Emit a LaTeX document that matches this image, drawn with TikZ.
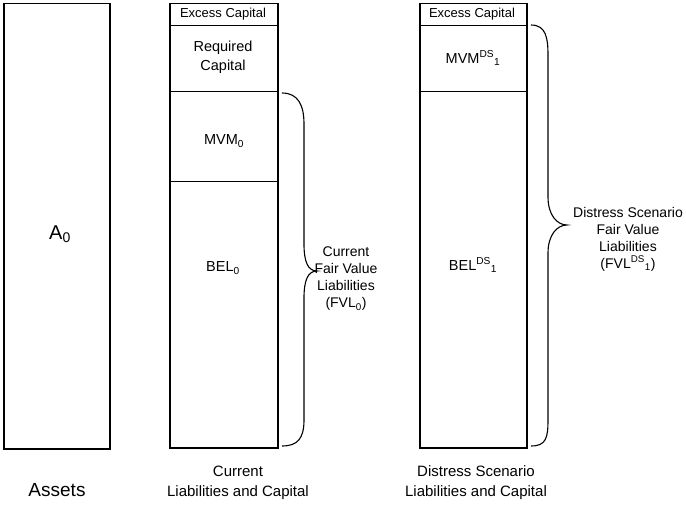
\documentclass[tikz,border=0pt]{standalone}
\usepackage{fontspec}
\setmainfont{Liberation Sans}
\begin{document}
\begin{tikzpicture}[x=1pt,y=-1pt,
  box/.style={draw, line width=1.5pt, rectangle, anchor=north west, inner sep=0pt},
  lbl/.style={inner sep=0pt, align=center, font=\fontsize{14.5}{19}\selectfont},
  small/.style={inner sep=0pt, font=\fontsize{13}{15}\selectfont},
  side/.style={inner sep=0pt, align=center, font=\fontsize{14}{17}\selectfont},
  bottom/.style={inner sep=0pt, align=center, font=\fontsize{15}{20}\selectfont},
  bracepath/.style={draw, line width=1.1pt}]
\useasboundingbox (0,0) rectangle (686,508);
\fill[white] (0,0) rectangle (686,508);
% Assets
\node[box, minimum width=106pt, minimum height=445pt] (assets) at (3,3) {};
% Current stack
\node[box, minimum width=108pt, minimum height=22pt] (exc0) at (169,3) {};
\node[box, minimum width=108pt, minimum height=66pt] (req0) at (169,25) {};
\node[box, minimum width=108pt, minimum height=90pt] (mvm0) at (169,91) {};
\node[box, minimum width=108pt, minimum height=266pt] (bel0) at (169,181) {};
% Distress stack
\node[box, minimum width=107pt, minimum height=22pt] (exc1) at (419,3) {};
\node[box, minimum width=107pt, minimum height=66pt] (mvm1) at (419,25) {};
\node[box, minimum width=107pt, minimum height=356pt] (bel1) at (419,91) {};
% labels in boxes
\node[lbl, font=\fontsize{20}{24}\selectfont] (a0t) at (60,234) {A\textsubscript{0}};
\node[small] (exc0t) at (223,14) {Excess Capital};
\node[lbl] (req0t) at (223,57) {Required\\Capital};
\node[lbl] (mvm0t) at (224,141) {MVM\textsubscript{0}};
\node[lbl] (bel0t) at (223,268) {BEL\textsubscript{0}};
\node[small] (exc1t) at (472,14) {Excess Capital};
\node[lbl] (mvm1t) at (473,58) {MVM\textsuperscript{DS}\textsubscript{1}};
\node[lbl] (bel1t) at (473,265) {BEL\textsuperscript{DS}\textsubscript{1}};
% braces
\path[bracepath] (282,93) .. controls (298,93) and (304,105) .. (304,124) -- (304,244)
  .. controls (304,262) and (308,271) .. (317,271)
  .. controls (308,271) and (304,280) .. (304,298) -- (304,420)
  .. controls (304,438) and (298,446) .. (282,446);
\path[bracepath] (531,25) .. controls (546,25) and (548,38) .. (548,55) -- (548,197)
  .. controls (548,215) and (557,225) .. (567,225)
  .. controls (557,225) and (548,235) .. (548,253) -- (548,420)
  .. controls (548,438) and (546,446) .. (531,446);
\node[side] (fvl0) at (346,279) {Current\\Fair Value\\Liabilities\\(FVL\textsubscript{0})};
\node[side] (fvl1) at (628,239) {Distress Scenario\\Fair Value\\Liabilities\\(FVL\textsuperscript{DS}\textsubscript{1})};
% bottom captions
\node[bottom, font=\fontsize{19}{22}\selectfont] (capA) at (57,490) {Assets};
\node[bottom] (capC) at (238,483) {Current\\Liabilities and Capital};
\node[bottom] (capD) at (476,483) {Distress Scenario\\Liabilities and Capital};
\end{tikzpicture}
\end{document}
